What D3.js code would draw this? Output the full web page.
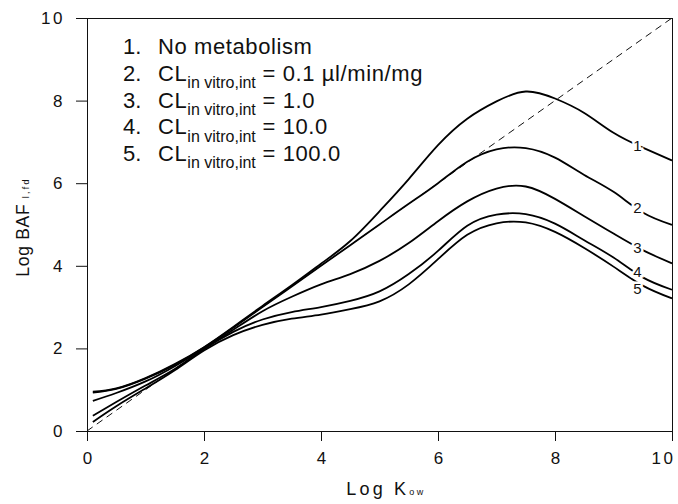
<!DOCTYPE html>
<html>
<head>
<meta charset="utf-8">
<script src="https://cdn.jsdelivr.net/npm/d3@7"></script>
<style>
body { margin: 0; background: #fff; }
svg { display: block; font-family: "Liberation Sans", Arial, Helvetica, sans-serif; }
</style>
</head>
<body>
<svg id="chart" width="678" height="504"></svg>
<script>
// Log Kow values sampled along each curve
var kow = [0.1, 0.5, 1, 1.5, 2, 2.5, 3, 3.5, 4, 4.5, 5, 5.5, 6, 6.5, 7, 7.5, 8, 8.5, 9, 9.5, 10]

// Log BAF for each scenario
var noMetab  = [0.95, 1.03, 1.28, 1.62, 2.03, 2.52, 3.03, 3.53, 4.05, 4.6, 5.32, 6.1, 6.92, 7.56, 7.98, 8.22, 8.05, 7.7, 7.22, 6.86, 6.55]
var cl01     = [0.93, 1.02, 1.27, 1.6, 2.02, 2.5, 3.0, 3.5, 4.0, 4.5, 5.0, 5.5, 6.0, 6.52, 6.82, 6.85, 6.62, 6.2, 5.79, 5.29, 4.99]
var cl1      = [0.73, 0.92, 1.2, 1.57, 2.0, 2.45, 2.9, 3.25, 3.55, 3.8, 4.12, 4.55, 5.08, 5.56, 5.87, 5.92, 5.62, 5.2, 4.78, 4.38, 4.06]
var cl10     = [0.37, 0.7, 1.1, 1.5, 1.98, 2.4, 2.7, 2.88, 3.0, 3.15, 3.38, 3.8, 4.36, 4.97, 5.24, 5.25, 5.02, 4.62, 4.2, 3.72, 3.42]
var cl100    = [0.22, 0.6, 1.03, 1.47, 1.95, 2.32, 2.57, 2.72, 2.82, 2.95, 3.14, 3.55, 4.16, 4.75, 5.03, 5.05, 4.82, 4.43, 3.98, 3.52, 3.21]

var seriesNames = ["1", "2", "3", "4", "5"]
var seriesValues = [noMetab, cl01, cl1, cl10, cl100]

// 1:1 reference line
var unityX = [0, 10]
var unityY = [0, 10]

var xTicks = [0, 2, 4, 6, 8, 10]
var yTicks = [0, 2, 4, 6, 8, 10]

var legendNum  = ["1.", "2.", "3.", "4.", "5."]
var legendMain = ["No metabolism", "CL", "CL", "CL", "CL"]
var legendSub  = ["", "in vitro,int", "in vitro,int", "in vitro,int", "in vitro,int"]
var legendRest = ["", " = 0.1 \u00b5l/min/mg", " = 1.0", " = 10.0", " = 100.0"]

var labelKow = 9.41
var labelNudge = [0, -1.5, 0, -2, 6]

var svg = d3.select("#chart")

var x = d3.scaleLinear().domain([0, 10]).range([87, 672])
var y = d3.scaleLinear().domain([0, 10]).range([431, 18])

// axes
var yAxis = d3.axisLeft(y).tickValues(yTicks).tickSize(11).tickPadding(11)
var xAxis = d3.axisBottom(x).tickValues(xTicks).tickSize(10).tickPadding(11)

var gy = svg.append("g").attr("transform", "translate(87,0)").call(yAxis)
var gx = svg.append("g").attr("transform", "translate(0,431)").call(xAxis)

;[gx, gy].forEach(function(g) {
    g.select(".domain").remove()
    g.selectAll(".tick line").attr("stroke", "#111")
    g.selectAll(".tick text")
        .attr("fill", "#111")
        .style("font-size", "17px")
        .style("letter-spacing", "2.5px")
        .style("font-family", "\"Liberation Sans\", Arial, sans-serif")
})
// last x label is pulled in so it stays on the page
gx.selectAll(".tick text").attr("dx", function(d) { return d == 10 ? "-9px" : "1.2px" })

// frame
svg.append("rect")
    .attr("x", x(0) + 0.5)
    .attr("y", y(10) + 0.5)
    .attr("width", x(10) - x(0))
    .attr("height", y(0) - y(10))
    .attr("fill", "none")
    .attr("stroke", "#111")
    .attr("stroke-width", 1)

// dashed 1:1 line
svg.append("path")
    .datum(d3.zip(unityX, unityY))
    .attr("fill", "none")
    .attr("stroke", "#111")
    .attr("stroke-width", 1)
    .attr("stroke-dasharray", "7,5")
    .attr("d", d3.line()
        .x(function(d) { return x(d[0]) })
        .y(function(d) { return y(d[1]) }))

var line = d3.line()
    .curve(d3.curveNatural)
    .x(function(d) { return x(d[0]) })
    .y(function(d) { return y(d[1]) })

svg.append("g").selectAll("path")
    .data(seriesValues)
    .enter()
    .append("path")
    .attr("fill", "none")
    .attr("stroke", "#000")
    .attr("stroke-width", 1.8)
    .attr("d", function(vals) { return line(d3.zip(kow, vals)) })

// curve numbers sitting on the lines, with a white halo to break the line
var valueAt = function(vals, k) {
    var i = d3.bisectLeft(kow, k)
    var t = (k - kow[i - 1]) / (kow[i] - kow[i - 1])
    return vals[i - 1] + t * (vals[i] - vals[i - 1])
}
svg.append("g").selectAll("text")
    .data(seriesNames)
    .enter()
    .append("text")
    .attr("x", x(labelKow))
    .attr("y", function(d, i) {
        return y(valueAt(seriesValues[i], labelKow)) + labelNudge[i]
    })
    .attr("text-anchor", "middle")
    .attr("dominant-baseline", "central")
    .style("font-size", "15px")
    .attr("fill", "#111")
    .attr("stroke", "#fff")
    .attr("stroke-width", 5)
    .attr("paint-order", "stroke")
    .text(function(d) { return d })

// legend block
var legend = svg.append("g").attr("fill", "#111")
legendNum.forEach(function(n, i) {
    var base = 54.3 + i * 26.6
    legend.append("text")
        .attr("x", 123).attr("y", base)
        .style("font-size", "22px")
        .text(n)
    var t = legend.append("text")
        .attr("x", 158).attr("y", base)
        .style("font-size", "22px")
        .style("letter-spacing", "0.6px")
    t.append("tspan").text(legendMain[i])
    if (legendSub[i]) {
        t.append("tspan")
            .attr("dy", 7.5)
            .style("font-size", "16px")
            .style("letter-spacing", "0px")
            .text(legendSub[i])
        t.append("tspan")
            .attr("dy", -7.5)
            .attr("xml:space", "preserve")
            .text(legendRest[i])
    }
})

// axis titles
var xt = svg.append("text")
    .attr("x", 386)
    .attr("y", 495)
    .attr("text-anchor", "middle")
    .attr("fill", "#111")
    .style("font-size", "18px")
    .style("letter-spacing", "3.2px")
xt.append("tspan").text("Log K")
xt.append("tspan").style("font-size", "9px").style("letter-spacing", "2.5px").text("ow")

var yt = svg.append("text")
    .attr("transform", "translate(29,227) rotate(-90)")
    .attr("text-anchor", "middle")
    .attr("fill", "#111")
    .style("font-size", "17.5px")
    .style("letter-spacing", "0.7px")
yt.append("tspan").text("Log BAF ")
yt.append("tspan").style("font-size", "9px").style("letter-spacing", "2.2px").text("l,fd")
</script>
</body>
</html>
